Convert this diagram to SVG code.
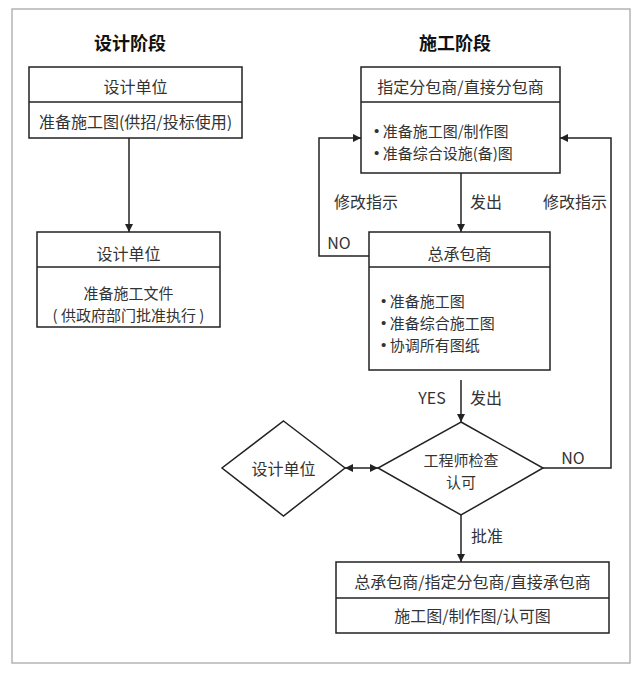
<svg xmlns="http://www.w3.org/2000/svg" width="640" height="678" viewBox="0 0 640 678">
<defs>
<marker id="ah" viewBox="0 0 10 10" refX="10" refY="5" markerWidth="8" markerHeight="8" markerUnits="userSpaceOnUse" orient="auto-start-reverse">
<path d="M0,0 L10,5 L0,10 z" fill="#222"/>
</marker>
<style>
.t{font-family:"Noto Sans CJK SC","Liberation Sans",sans-serif;font-size:16px;fill:#333;text-anchor:middle;dominant-baseline:central}
.m{font-size:15px}
.l{text-anchor:start}
.bu{font-family:"Liberation Sans",sans-serif}
.h{font-size:18px;font-weight:bold;fill:#111}
.b{fill:#fff;stroke:#222;stroke-width:1.5}
.ln{fill:none;stroke:#222;stroke-width:1.5}
.c{fill:none;stroke:#222;stroke-width:1.5}
</style>
</defs>
<rect width="640" height="678" fill="#fff"/>
<rect x="12" y="9" width="618" height="654" fill="none" stroke="#b4b4b4" stroke-width="1.5"/>
<text class="t h" x="130" y="42">设计阶段</text>
<text class="t h" x="455" y="42">施工阶段</text>

<g id="connectors">
<line class="c" x1="129" y1="138" x2="129" y2="232" marker-end="url(#ah)"/>
<line class="c" x1="461" y1="173" x2="461" y2="232" marker-end="url(#ah)"/>
<polyline class="c" points="369,256 319,256 319,138 361,138" marker-end="url(#ah)"/>
<polyline class="c" points="543,468 611,468 611,138 560,138" marker-end="url(#ah)"/>
<line class="c" x1="461" y1="380" x2="461" y2="422" marker-end="url(#ah)"/>
<line class="c" x1="345" y1="468" x2="378" y2="468" marker-start="url(#ah)" marker-end="url(#ah)"/>
<line class="c" x1="461" y1="515" x2="461" y2="562" marker-end="url(#ah)"/>
<text class="t" x="366" y="201">修改指示</text>
<text class="t" x="339" y="242">NO</text>
<text class="t" x="486" y="201">发出</text>
<text class="t" x="575" y="201">修改指示</text>
<text class="t" x="573" y="457">NO</text>
<text class="t" x="432" y="397">YES</text>
<text class="t" x="486" y="397">发出</text>
<text class="t" x="487" y="535">批准</text>
</g>

<g id="design-unit-1">
<rect class="b" x="29" y="67" width="213" height="71"/>
<line class="ln" x1="29" y1="102" x2="242" y2="102"/>
<text class="t" x="135.5" y="86">设计单位</text>
<text class="t" x="135.5" y="121">准备施工图(供招/投标使用)</text>
</g>

<g id="design-unit-2">
<rect class="b" x="37" y="232" width="183" height="95"/>
<line class="ln" x1="37" y1="267" x2="220" y2="267"/>
<text class="t" x="128.5" y="253">设计单位</text>
<text class="t m" x="128.5" y="292">准备施工文件</text>
<text class="t m" x="128.5" y="314">( 供政府部门批准执行 )</text>
</g>

<g id="subcontractor">
<rect class="b" x="361" y="67" width="199" height="106"/>
<line class="ln" x1="361" y1="102" x2="560" y2="102"/>
<text class="t" x="460.5" y="86">指定分包商/直接分包商</text>
<text class="t m l" x="374" y="130"><tspan class="bu">•</tspan> 准备施工图/制作图</text>
<text class="t m l" x="374" y="152"><tspan class="bu">•</tspan> 准备综合设施(备)图</text>
</g>

<g id="main-contractor">
<rect class="b" x="369" y="232" width="181" height="138"/>
<line class="ln" x1="369" y1="267" x2="550" y2="267"/>
<text class="t" x="459.5" y="253">总承包商</text>
<text class="t m l" x="381" y="300"><tspan class="bu">•</tspan> 准备施工图</text>
<text class="t m l" x="381" y="322"><tspan class="bu">•</tspan> 准备综合施工图</text>
<text class="t m l" x="381" y="344"><tspan class="bu">•</tspan> 协调所有图纸</text>
</g>

<g id="engineer-check">
<polygon class="b" points="461,422 543,468 461,515 378,468"/>
<text class="t m" x="461" y="459">工程师检查</text>
<text class="t m" x="461" y="481">认可</text>
</g>

<g id="design-unit-3">
<polygon class="b" points="283.5,421 345,468 283.5,516 222,468"/>
<text class="t" x="283.5" y="468">设计单位</text>
</g>

<g id="result">
<rect class="b" x="336" y="562" width="273" height="71"/>
<line class="ln" x1="336" y1="598" x2="609" y2="598"/>
<text class="t" x="472.5" y="581">总承包商/指定分包商/直接承包商</text>
<text class="t" x="472.5" y="615">施工图/制作图/认可图</text>
</g>
</svg>
